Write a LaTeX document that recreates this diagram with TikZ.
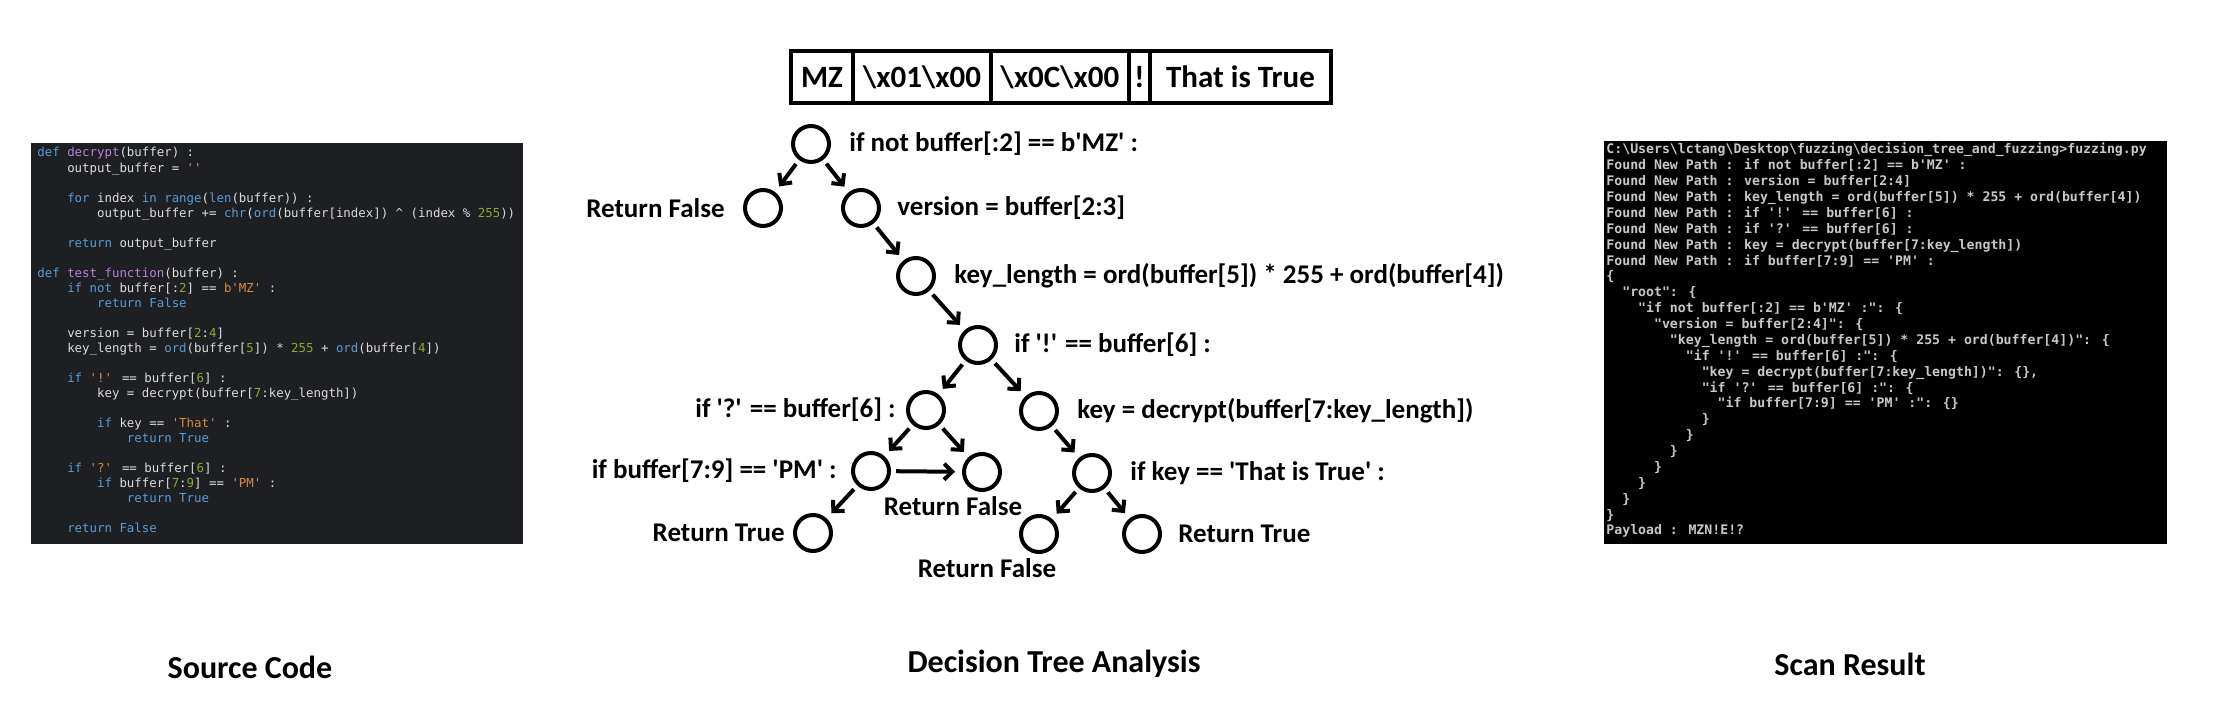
\documentclass[tikz,border=0pt]{standalone}
\usepackage{fontspec}
\setmainfont{Carlito}
\newfontfamily\codefont{DejaVu Sans Mono}
\newfontfamily\termfont{DejaVu Sans Mono}
\usepackage{xcolor}
\usetikzlibrary{positioning,arrows.meta}
\definecolor{codebg}{HTML}{1E1F22}
\definecolor{codefg}{HTML}{DCDCDC}
\definecolor{kwblue}{HTML}{569CD6}
\definecolor{fnpurple}{HTML}{B77FDB}
\definecolor{numgreen}{HTML}{8AA830}
\definecolor{strorange}{HTML}{D68B3F}
\definecolor{termbg}{HTML}{000000}
\definecolor{termfg}{HTML}{C8C8C8}
\newcommand\q{\textquotesingle}
\newcommand\kw[1]{\textcolor{kwblue}{#1}}
\newcommand\fn[1]{\textcolor{fnpurple}{#1}}
\newcommand\nm[1]{\textcolor{numgreen}{#1}}
\newcommand\st[1]{\textcolor{strorange}{#1}}
\newcommand\tb{\phantom{0000}}
\newcommand\bs{\textbackslash}

\begin{document}
\begin{tikzpicture}[x=0.5pt,y=-0.5pt,
    node/.style={circle, draw, line width=2pt, minimum size=18pt, inner sep=0pt},
    lbl/.style={font=\fontsize{13.5}{15}\selectfont\bfseries, inner sep=2pt},
    arr/.style={-{Straight Barb[length=4pt,width=8pt]}, line width=2pt, shorten <=2.5pt, shorten >=3.5pt},
    cell/.style={draw, line width=1.75pt, minimum height=26pt, inner sep=0pt, outer sep=0pt,
      font=\fontsize{15.5}{17}\selectfont\bfseries},
    caption/.style={font=\fontsize{16}{18}\selectfont\bfseries}]
  \useasboundingbox (0,0) rectangle (2216,704);

  % source code panel
  \fill[codebg] (31,143) rectangle (523,544);
  \node[anchor=base west, align=left, inner sep=0pt, text=codefg,
    font=\codefont\fontsize{6.2}{7.52}\selectfont] (src) at (37,533) {%
    \kw{def} \fn{decrypt}(buffer) :\\
    \tb output\_buffer = \st{\q\q}\\
    ~\\
    \tb\kw{for} index \kw{in} \kw{range}(\kw{len}(buffer)) :\\
    \tb\tb output\_buffer += \kw{chr}(\kw{ord}(buffer[index]) \textasciicircum{} (index \% \nm{255}))\\
    ~\\
    \tb\kw{return} output\_buffer\\
    ~\\
    \kw{def} \fn{test\_function}(buffer) :\\
    \tb\kw{if} \kw{not} buffer[:\nm{2}] == \st{b\q MZ\q} :\\
    \tb\tb\kw{return} \kw{False}\\
    ~\\
    \tb version = buffer[\nm{2}:\nm{4}]\\
    \tb key\_length = \kw{ord}(buffer[\nm{5}]) * \nm{255} + \kw{ord}(buffer[\nm{4}])\\
    ~\\
    \tb\kw{if} \st{\q!\q} == buffer[\nm{6}] :\\
    \tb\tb key = decrypt(buffer[\nm{7}:key\_length])\\
    ~\\
    \tb\tb\kw{if} key == \st{\q That\q} :\\
    \tb\tb\tb\kw{return} \kw{True}\\
    ~\\
    \tb\kw{if} \st{\q?\q} == buffer[\nm{6}] :\\
    \tb\tb\kw{if} buffer[\nm{7}:\nm{9}] == \st{\q PM\q} :\\
    \tb\tb\tb\kw{return} \kw{True}\\
    ~\\
    \tb\kw{return} \kw{False}};

  % payload
  \node[cell, minimum width=31pt, anchor=west] (bmz) at (791,77) {MZ};
  \node[cell, minimum width=69pt, right=0pt of bmz] (bver) {\bs x01\bs x00};
  \node[cell, minimum width=69pt, right=0pt of bver] (blen) {\bs x0C\bs x00};
  \node[cell, minimum width=10.5pt, right=0pt of blen] (bbang) {!};
  \node[cell, minimum width=90.5pt, right=0pt of bbang] (bkey) {That is True};

  % decision tree
  \node[node] (root) at (811,144) {};
  \node[node] (rf1) at (763,208) {};
  \node[node] (ver) at (861,208) {};
  \node[node] (klen) at (916,276) {};
  \node[node] (bang) at (978,345) {};
  \node[node] (qm) at (926,410) {};
  \node[node] (key) at (1039,411) {};
  \node[node] (pm) at (871,471) {};
  \node[node] (rf2) at (982,472) {};
  \node[node] (kif) at (1092,473) {};
  \node[node] (rt1) at (813,533) {};
  \node[node] (rf3) at (1039,534) {};
  \node[node] (rt2) at (1142,534) {};

  \node[lbl, right=7pt of root] (lroot) {if not buffer[:2] == b\q MZ\q{} :};
  \node[lbl, left=7pt of rf1] (lrf1) {Return False};
  \node[lbl, right=6pt of ver] (lver) {version = buffer[2:3]};
  \node[lbl, right=7pt of klen] (lklen) {key\_length = ord(buffer[5]) * 255 + ord(buffer[4])};
  \node[lbl, right=6pt of bang] (lbang) {if \q!\q{} == buffer[6] :};
  \node[lbl, left=3pt of qm] (lqm) {if \q?\q{} == buffer[6] :};
  \node[lbl, right=7pt of key] (lkey) {key = decrypt(buffer[7:key\_length])};
  \node[lbl, left=5pt of pm] (lpm) {if buffer[7:9] == \q PM\q{} :};
  \node[lbl, below=0pt of rf2, xshift=-14.5pt] (lrf2) {Return False};
  \node[lbl, right=7pt of kif] (lkif) {if key == \q That is True\q{} :};
  \node[lbl, left=2pt of rt1] (lrt1) {Return True};
  \node[lbl, below=0pt of rf3, xshift=-26pt] (lrf3) {Return False};
  \node[lbl, right=6pt of rt2] (lrt2) {Return True};

  \draw[arr] (root) -- (rf1);
  \draw[arr] (root) -- (ver);
  \draw[arr] (ver) -- (klen);
  \draw[arr] (klen) -- (bang);
  \draw[arr] (bang) -- (qm);
  \draw[arr] (bang) -- (key);
  \draw[arr] (qm) -- (pm);
  \draw[arr] (qm) -- (rf2);
  \draw[arr] (key) -- (kif);
  \draw[arr] (pm) -- (rf2);
  \draw[arr] (pm) -- (rt1);
  \draw[arr] (kif) -- (rf3);
  \draw[arr] (kif) -- (rt2);

  % scan result panel
  \fill[termbg] (1604,141) rectangle (2167,544);
  \node[anchor=base west, align=left, inner sep=0pt, text=termfg,
    font=\termfont\bfseries\fontsize{6.6}{7.94}\selectfont] (scan) at (1606,535) {%
    C:\bs Users\bs lctang\bs Desktop\bs fuzzing\bs decision\_tree\_and\_fuzzing>fuzzing.py\\
    Found New Path : if not buffer[:2] == b\q MZ\q{} :\\
    Found New Path : version = buffer[2:4]\\
    Found New Path : key\_length = ord(buffer[5]) * 255 + ord(buffer[4])\\
    Found New Path : if \q!\q{} == buffer[6] :\\
    Found New Path : if \q?\q{} == buffer[6] :\\
    Found New Path : key = decrypt(buffer[7:key\_length])\\
    Found New Path : if buffer[7:9] == \q PM\q{} :\\
    \{\\
    \phantom{00}"root": \{\\
    \phantom{0000}"if not buffer[:2] == b\q MZ\q{} :": \{\\
    \phantom{000000}"version = buffer[2:4]": \{\\
    \phantom{00000000}"key\_length = ord(buffer[5]) * 255 + ord(buffer[4])": \{\\
    \phantom{0000000000}"if \q!\q{} == buffer[6] :": \{\\
    \phantom{000000000000}"key = decrypt(buffer[7:key\_length])": \{\},\\
    \phantom{000000000000}"if \q?\q{} == buffer[6] :": \{\\
    \phantom{00000000000000}"if buffer[7:9] == \q PM\q{} :": \{\}\\
    \phantom{000000000000}\}\\
    \phantom{0000000000}\}\\
    \phantom{00000000}\}\\
    \phantom{000000}\}\\
    \phantom{0000}\}\\
    \phantom{00}\}\\
    \}\\
    Payload : MZN!E!?};

  % captions
  \node[caption] (csrc) at (250,667) {Source Code};
  \node[caption] (ctree) at (1054,664) {Decision Tree Analysis};
  \node[caption] (cscan) at (1850,664) {Scan Result};
\end{tikzpicture}
\end{document}
